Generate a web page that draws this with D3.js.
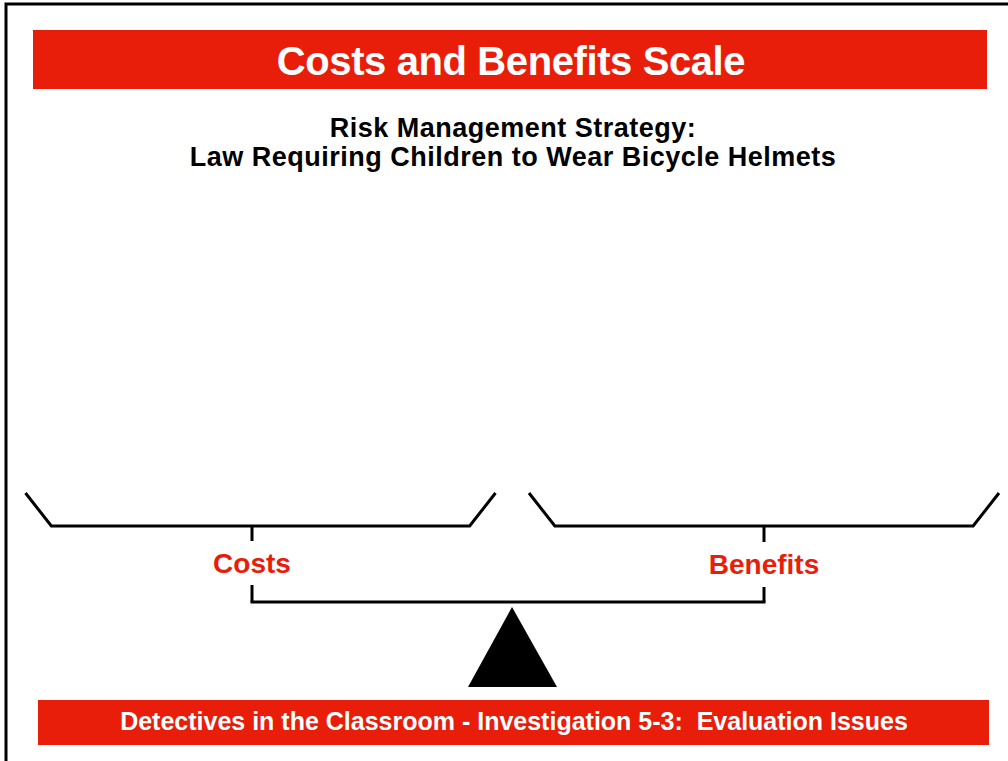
<!DOCTYPE html>
<html>
<head>
<meta charset="utf-8">
<script src="https://cdn.jsdelivr.net/npm/d3@7"></script>
<style>
    html, body { margin: 0; padding: 0; background: #fff; }
    svg { display: block; font-family: "Liberation Sans", Arial, sans-serif; font-weight: bold; }
    text { white-space: pre; }
</style>
</head>
<body>
<div id="chart"></div>
<script>
// diagram content
var title = "Costs and Benefits Scale"
var subtitle = ["Risk Management Strategy:", "Law Requiring Children to Wear Bicycle Helmets"]
var footer = "Detectives in the Classroom - Investigation 5-3:  Evaluation Issues"
var sides = ["Costs", "Benefits"]
// pan outline in pan units: [offset from pan centre, height above pan floor]
var pan_shape = [[-1, 1], [-0.89, 0], [0.89, 0], [1, 1]]
var pan_centres = [260.5, 764]   // centre of each pan
var stem_x = [252, 764]           // where each hanger meets the beam
var label_y = [573, 574]

var RED = "#e81e0a"
var width = 1008, height = 761

function create_vis() {
    return d3.select("#chart").append("svg").attr("width", width).attr("height", height)
}

function draw() {
    var svg = create_vis()

    // frame, only top and left edges show in the window
    svg.append("path")
        .attr("d", "M6,770V4H1020")
        .attr("fill", "none")
        .attr("stroke", "#000")
        .attr("stroke-width", 3)

    // header band
    svg.append("rect").attr("x", 33).attr("y", 30).attr("width", 954).attr("height", 59).attr("fill", RED)
    svg.append("text")
        .attr("x", 511).attr("y", 75)
        .attr("text-anchor", "middle")
        .attr("fill", "#fff")
        .attr("font-size", 40)
        .attr("letter-spacing", -0.4)
        .text(title)

    svg.selectAll("text.sub")
        .data(subtitle)
        .enter().append("text")
        .attr("class", "sub")
        .attr("x", 513)
        .attr("y", (d, i) => 137 + i * 29)
        .attr("text-anchor", "middle")
        .attr("fill", "#000")
        .attr("font-size", 27)
        .attr("letter-spacing", 0.5)
        .text((d) => d)

    // pans
    var px = d3.scaleLinear().domain([-1, 1])
    var py = d3.scaleLinear().domain([0, 1]).range([526, 493])
    svg.append("g").attr("class", "pans")
        .selectAll("path")
        .data(sides)
        .enter().append("path")
        .attr("d", (d, i) => {
            px.range([pan_centres[i] - 235, pan_centres[i] + 235])
            return d3.line().x((p) => px(p[0])).y((p) => py(p[1]))(pan_shape)
        })
        .attr("fill", "none")
        .attr("stroke", "#000")
        .attr("stroke-width", 3)

    // hangers
    var hang = svg.append("g").attr("stroke", "#000").attr("stroke-width", 3).attr("fill", "none")
    sides.forEach((d, i) => {
        hang.append("line").attr("x1", stem_x[i]).attr("x2", stem_x[i]).attr("y1", 526).attr("y2", 541 + i)
        hang.append("line").attr("x1", stem_x[i]).attr("x2", stem_x[i]).attr("y1", 585 + i * 2).attr("y2", 602)
    })
    hang.append("line").attr("x1", stem_x[0] - 1.5).attr("x2", stem_x[1] + 1.5).attr("y1", 602).attr("y2", 602)

    svg.selectAll("text.side")
        .data(sides)
        .enter().append("text")
        .attr("class", "side")
        .attr("x", (d, i) => stem_x[i])
        .attr("y", (d, i) => label_y[i])
        .attr("text-anchor", "middle")
        .attr("fill", RED)
        .attr("font-size", 28)
        .text((d) => d)

    // fulcrum
    svg.append("path")
        .attr("d", "M512,607L557,687L468,687Z")
        .attr("fill", "#000")

    // footer band
    svg.append("rect").attr("x", 38).attr("y", 700).attr("width", 951).attr("height", 45).attr("fill", RED)
    svg.append("text")
        .attr("x", 514).attr("y", 730)
        .attr("text-anchor", "middle")
        .attr("fill", "#fff")
        .attr("font-size", 25)
        .text(footer)
}

draw()
</script>
</body>
</html>
